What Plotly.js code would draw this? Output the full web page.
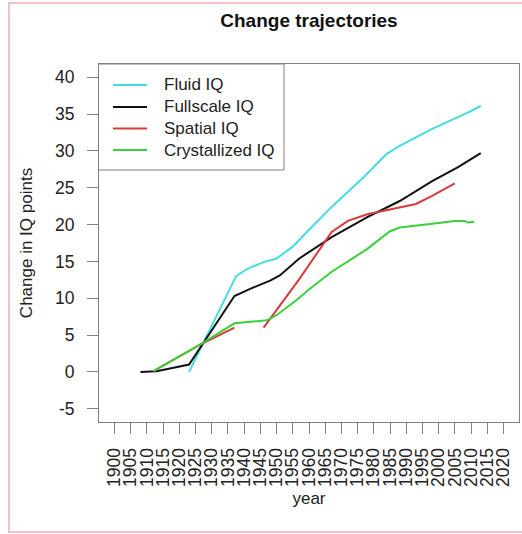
<!DOCTYPE html>
<html>
<head>
<meta charset="utf-8">
<script src="https://cdn.plot.ly/plotly-3.0.1.min.js"></script>
<style>
html,body{margin:0;padding:0;background:#fff;}
#chart{width:522px;height:534px;}
</style>
</head>
<body>
<div id="chart"></div>
<script>
// ---- data ----
var fluidYears = [1923, 1937.5, 1941, 1946, 1950, 1955, 1960, 1967, 1977, 1984, 1988, 1998, 2008, 2013];
var fluidIQ    = [0.0, 13.0, 14.0, 14.9, 15.4, 17.0, 19.3, 22.4, 26.5, 29.6, 30.7, 33.0, 35.0, 36.1];

var fullYears  = [1908, 1913, 1923, 1937, 1942, 1948, 1951, 1957, 1967, 1978, 1988, 1998, 2006, 2013];
var fullIQ     = [0.0, 0.1, 1.0, 10.3, 11.3, 12.4, 13.1, 15.4, 18.3, 21.0, 23.2, 25.9, 27.8, 29.7];

var spatialYears = [1912, 1926, 1937, null, 1946, 1957, 1967, 1972, 1978, 1983, 1988, 1993, 1998, 2005];
var spatialIQ    = [0.1, 3.6, 6.0, null, 6.0, 12.6, 19.0, 20.5, 21.4, 21.9, 22.3, 22.8, 23.9, 25.6];

var crystYears = [1912, 1926, 1937, 1947, 1950, 1956, 1960, 1964, 1967, 1972, 1978, 1985, 1988, 1998, 2005, 2008, 2009, 2011];
var crystIQ    = [0.1, 3.6, 6.6, 7.0, 7.7, 9.7, 11.2, 12.6, 13.6, 15.0, 16.7, 19.1, 19.6, 20.1, 20.5, 20.5, 20.3, 20.4];

var seriesNames = ["Fluid IQ", "Fullscale IQ", "Spatial IQ", "Crystallized IQ"];
var yearTicks = [];
for (var yr = 1900; yr <= 2020; yr += 5) yearTicks.push(yr);
var yTicks = [-5, 0, 5, 10, 15, 20, 25, 30, 35, 40];

// ---- styling ----
var colors = ["#45DCE0", "#111111", "#D83A3A", "#3CD03C"];
var FONT = "Liberation Sans, Arial, sans-serif";
var W = 522, H = 534, ML = 99, MR = 3, MT = 64, MB = 112;
var PW = W - ML - MR, PH = H - MT - MB;
function px2x(px) { return (px - ML) / PW; }
function py2y(py) { return (H - MB - py) / PH; }

function tr(x, y, i) {
  return {x: x, y: y, name: seriesNames[i], type: "scatter", mode: "lines",
          connectgaps: false, showlegend: false, line: {color: colors[i], width: 2}};
}

var data = [
  tr(fluidYears, fluidIQ, 0),
  tr(fullYears, fullIQ, 1),
  tr(spatialYears, spatialIQ, 2),
  tr(crystYears, crystIQ, 3)
];

var axisCommon = {
  showgrid: false, zeroline: false, showline: true, mirror: true,
  linecolor: "#808080", linewidth: 1,
  ticks: "outside", tickcolor: "#808080", tickwidth: 1,
  tickfont: {family: FONT, size: 17.5, color: "#222"}
};

// legend drawn as a box + line samples + text
var legendRows = [85, 107, 128.5, 150];
var shapes = [
  {type: "rect", xref: "paper", yref: "paper",
   x0: px2x(9), x1: px2x(530), y0: py2y(532), y1: py2y(3),
   line: {color: "#F2AAB2", width: 1.5}, fillcolor: "rgba(0,0,0,0)", layer: "below"},
  {type: "rect", xref: "paper", yref: "paper",
   x0: px2x(98.5), x1: px2x(284), y0: py2y(170), y1: py2y(64),
   line: {color: "#808080", width: 1}, fillcolor: "#fff", layer: "above"}
];
var annotations = [];
seriesNames.forEach(function (nm, i) {
  shapes.push({type: "line", xref: "paper", yref: "paper",
    x0: px2x(113), x1: px2x(147), y0: py2y(legendRows[i]), y1: py2y(legendRows[i]),
    line: {color: colors[i], width: 2}, layer: "above"});
  annotations.push({xref: "paper", yref: "paper", x: px2x(162), y: py2y(legendRows[i]),
    xanchor: "left", yanchor: "middle", showarrow: false, text: nm,
    font: {family: FONT, size: 17, color: "#222"}});
});

var layout = {
  width: W, height: H,
  margin: {l: ML, r: MR, t: MT, b: MB},
  paper_bgcolor: "#fff", plot_bgcolor: "#fff",
  font: {family: FONT, color: "#222"},
  title: {text: "<b>Change trajectories</b>", font: {family: FONT, size: 19, color: "#111"},
          x: 0.5, xref: "paper", xanchor: "center", y: 0.962, yanchor: "middle"},
  xaxis: Object.assign({}, axisCommon, {
    range: [1895.2, 2024.8], tickvals: yearTicks, ticktext: yearTicks.map(String),
    tickangle: -90, ticklen: 11, ticklabelstandoff: 7,
    title: {text: "year", font: {family: FONT, size: 17, color: "#222"}, standoff: 6}
  }),
  yaxis: Object.assign({}, axisCommon, {
    range: [-6.8, 41.8], tickvals: yTicks, ticktext: yTicks.map(String),
    ticklen: 11, ticklabelstandoff: 9,
    title: {text: "Change in IQ points", font: {family: FONT, size: 17, color: "#222"}, standoff: 18}
  }),
  showlegend: false,
  shapes: shapes,
  annotations: annotations
};

Plotly.newPlot("chart", data, layout, {displayModeBar: false, staticPlot: true});
</script>
</body>
</html>
